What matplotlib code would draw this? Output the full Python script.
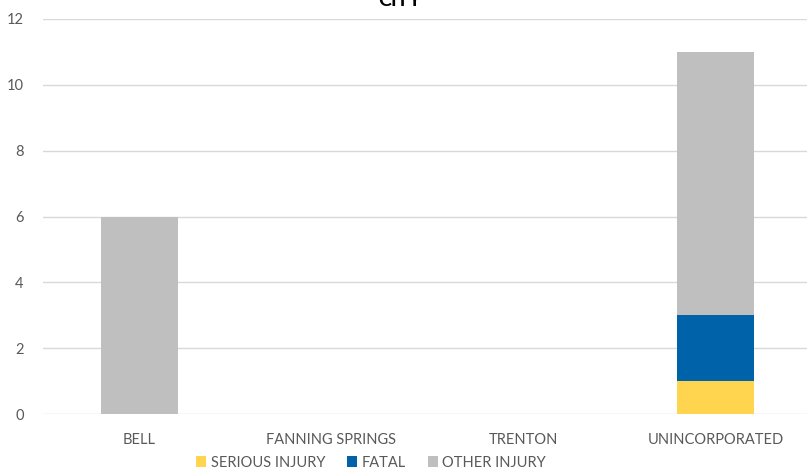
import matplotlib.pyplot as plt
import numpy as np

# data
cities = ["BELL", "FANNING SPRINGS", "TRENTON", "UNINCORPORATED"]
serious = [0, 0, 0, 1]
fatal = [0, 0, 0, 2]
other = [6, 0, 0, 8]
series_names = ["SERIOUS INJURY", "FATAL", "OTHER INJURY"]
colors = ["#FFD44F", "#0062A9", "#BFBFBF"]

plt.rcParams["font.family"] = ["Lato", "DejaVu Sans"]
txt = "#595959"

fig = plt.figure(figsize=(8.07, 4.76), dpi=100)
ax = fig.add_axes([43 / 807, 62 / 476, 769 / 807, 395 / 476])

x = np.arange(len(cities))
bottom = np.zeros(len(cities))
for vals, name, c in zip([serious, fatal, other], series_names, colors):
    ax.bar(x, vals, 0.4, bottom=bottom, color=c, label=name, zorder=2)
    bottom += np.array(vals)

ax.set_xlim(-0.5, 3.5)
ax.set_ylim(0, 12)
ax.set_yticks(range(0, 13, 2))
ax.set_xticks(x)
ax.set_xticklabels(cities)
ax.grid(axis="y", color="#D9D9D9", linewidth=1, zorder=0)
for s in ax.spines.values():
    s.set_visible(False)
ax.tick_params(axis="both", length=0, colors=txt, labelsize=10.5)
ax.tick_params(axis="x", pad=14)
ax.tick_params(axis="y", pad=14)

fig.text(0.495, 1.0, "CITY", ha="center", va="center", fontsize=14, fontweight="bold", color="black")

fig.legend(loc="lower center", bbox_to_anchor=(0.46, -0.014), ncol=3, frameon=False,
           fontsize=10.5, handlelength=0.7, handleheight=0.7, handletextpad=0.3,
           columnspacing=1.5, labelcolor=txt)

fig.savefig("out.png", dpi=100)
